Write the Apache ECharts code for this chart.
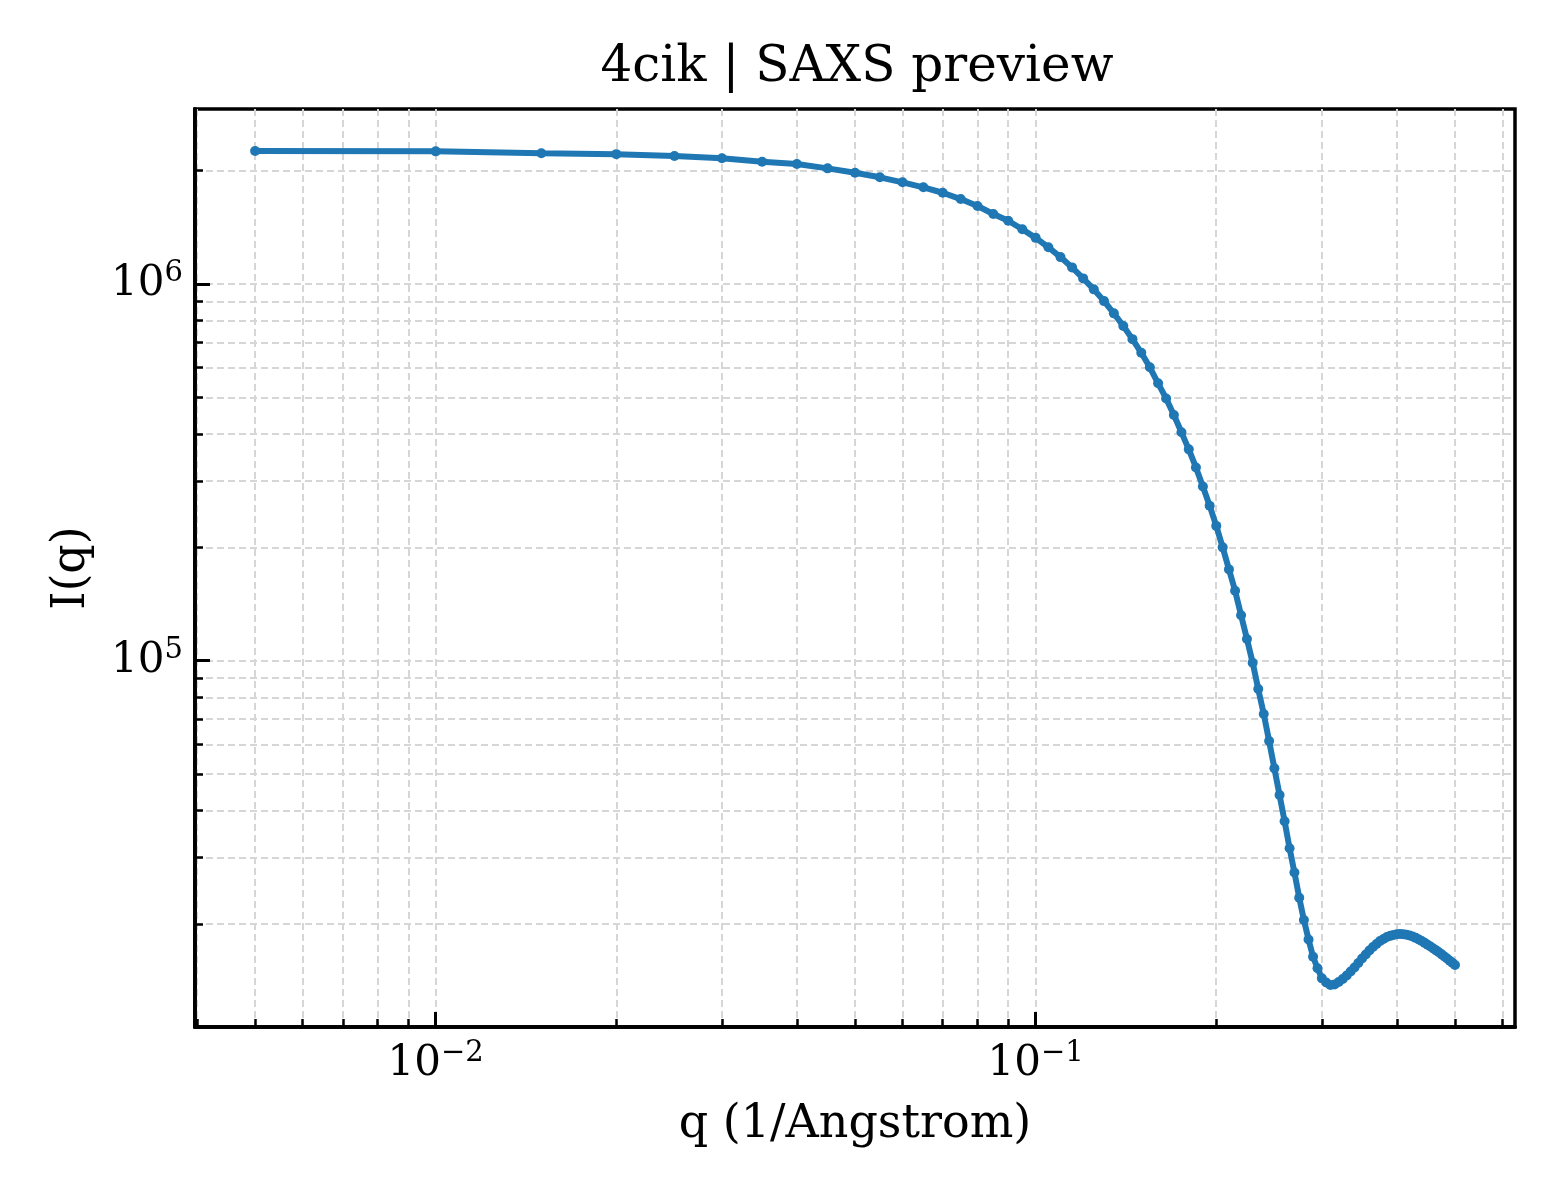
<!DOCTYPE html>
<html>
<head>
    <meta charset="utf-8">
    <title>4cik | SAXS preview</title>
    <!-- 引入 ECharts 库 -->
    <script src="https://cdn.jsdelivr.net/npm/echarts@6/dist/echarts.min.js"></script>
</head>
<body style="margin: 0; background: #fff;">
<div id="chart-container" style="width: 1560px; height: 1200px;"></div>
<script>
    // q (1/Angstrom)
    var qValues = [
        0.005, 0.010, 0.015, 0.020, 0.025, 0.030, 0.035, 0.040, 0.045, 0.050,
        0.055, 0.060, 0.065, 0.070, 0.075, 0.080, 0.085, 0.090, 0.095, 0.100,
        0.105, 0.110, 0.115, 0.120, 0.125, 0.130, 0.135, 0.140, 0.145, 0.150,
        0.155, 0.160, 0.165, 0.170, 0.175, 0.180, 0.185, 0.190, 0.195, 0.200,
        0.205, 0.210, 0.215, 0.220, 0.225, 0.230, 0.235, 0.240, 0.245, 0.250,
        0.255, 0.260, 0.265, 0.270, 0.275, 0.280, 0.285, 0.290, 0.295, 0.300,
        0.305, 0.310, 0.315, 0.320, 0.325, 0.330, 0.335, 0.340, 0.345, 0.350,
        0.355, 0.360, 0.365, 0.370, 0.375, 0.380, 0.385, 0.390, 0.395, 0.400,
        0.405, 0.410, 0.415, 0.420, 0.425, 0.430, 0.435, 0.440, 0.445, 0.450,
        0.455, 0.460, 0.465, 0.470, 0.475, 0.480, 0.485, 0.490, 0.495, 0.500
    ];

    // I(q)
    var intensity = [
        2255000, 2250000, 2223000, 2212000, 2187000, 2157000, 2112000, 2083000, 2028000, 1975000,
        1920000, 1862000, 1806000, 1747000, 1681000, 1611000, 1534000, 1472000, 1398000, 1326000,
        1252000, 1179000, 1107000, 1035000, 968000, 901000, 836000, 774000, 714000, 657000,
        601000, 545000, 497000, 449000, 404000, 364000, 326000, 290000, 258000, 228000,
        200000, 174800, 153400, 132000, 114200, 98800, 84100, 72200, 61200, 51800,
        44000, 37500, 31800, 27400, 23500, 20500, 18200, 16380, 15260, 14350,
        13990, 13780, 13820, 14030, 14290, 14600, 14960, 15330, 15760, 16200,
        16600, 17010, 17380, 17700, 18030, 18250, 18470, 18610, 18720, 18790,
        18820, 18790, 18730, 18640, 18530, 18380, 18210, 18030, 17830, 17630,
        17430, 17230, 17030, 16830, 16620, 16410, 16200, 15990, 15780, 15570
    ];

    // 刻度
    var xMajorTicks = [0.01, 0.1];
    var xMinorTicks = [0.004, 0.005, 0.006, 0.007, 0.008, 0.009,
        0.02, 0.03, 0.04, 0.05, 0.06, 0.07, 0.08, 0.09,
        0.2, 0.3, 0.4, 0.5, 0.6];
    var yMajorTicks = [1e5, 1e6];
    var yMinorTicks = [2e4, 3e4, 4e4, 5e4, 6e4, 7e4, 8e4, 9e4,
        2e5, 3e5, 4e5, 5e5, 6e5, 7e5, 8e5, 9e5,
        2e6];

    var xMin = 0.00397, xMax = 0.6295;
    var yMin = 10660, yMax = 2915000;

    var font = 'DejaVu Serif';
    var gridStyle = {color: '#d6d6d6', width: 2, type: [7, 4]};

    // 10^n 标签
    function powLabel(v) {
        var e = Math.round(Math.log10(v));
        return '{b|10}{s|' + (e < 0 ? '\u2212' + (-e) : e) + '}';
    }

    var labelRich = {
        b: {fontFamily: font, fontSize: 42, lineHeight: 50, color: '#000'},
        s: {fontFamily: font, fontSize: 29, lineHeight: 29, verticalAlign: 'top', color: '#000'}
    };

    function makeAxis(dim, gridIndex, ticks, major) {
        var isX = dim === 'x';
        return {
            type: 'log',
            logBase: 10,
            gridIndex: gridIndex,
            position: isX ? 'bottom' : 'left',
            min: isX ? xMin : yMin,
            max: isX ? xMax : yMax,
            axisLine: {show: true, lineStyle: {color: '#000', width: 3.5}},
            axisTick: {
                show: true, inside: true, length: major ? 15 : 8,
                customValues: ticks,
                lineStyle: {color: '#000', width: major ? 3 : 2.5}
            },
            axisLabel: major ? {
                show: true, customValues: ticks, margin: 12,
                formatter: powLabel, rich: labelRich
            } : {show: false},
            splitLine: {show: true, lineStyle: gridStyle},
            minorTick: {show: false},
            minorSplitLine: {show: false}
        };
    }

    var xMain = makeAxis('x', 0, xMajorTicks, true);
    xMain.name = 'q (1/Angstrom)';
    xMain.nameLocation = 'middle';
    xMain.nameGap = 75;
    xMain.nameTextStyle = {fontFamily: font, fontSize: 46, color: '#000'};

    var yMain = makeAxis('y', 0, yMajorTicks, true);
    yMain.name = 'I(q)';
    yMain.nameLocation = 'middle';
    yMain.nameGap = 100;
    yMain.nameTextStyle = {fontFamily: font, fontSize: 46, color: '#000'};

    var gridRect = {left: 195, right: 45, top: 109, bottom: 173, outerBoundsMode: 'none'};

    var option1 = {
        backgroundColor: '#fff',
        animation: false,
        title: {
            text: '4cik | SAXS preview',
            left: 852,
            textAlign: 'center',
            top: 38,
            textStyle: {fontFamily: font, fontSize: 50, fontWeight: 'normal', color: '#000'}
        },
        grid: [
            Object.assign({show: true, borderColor: '#000', borderWidth: 3.5, backgroundColor: 'transparent'}, gridRect),
            Object.assign({show: false}, gridRect)
        ],
        xAxis: [xMain, makeAxis('x', 1, xMinorTicks, false)],
        yAxis: [yMain, makeAxis('y', 1, yMinorTicks, false)],
        series: [{
            type: 'line',
            xAxisIndex: 0,
            yAxisIndex: 0,
            data: qValues.map(function (q, i) { return [q, intensity[i]]; }),
            symbol: 'circle',
            symbolSize: 10,
            showSymbol: true,
            showAllSymbol: true,
            lineStyle: {color: '#1f77b4', width: 6},
            itemStyle: {color: '#1f77b4', borderWidth: 0},
            emphasis: {disabled: true},
            z: 5
        }]
    };

    var chart = echarts.init(document.getElementById('chart-container'));
    chart.setOption(option1);
</script>
</body>
</html>
